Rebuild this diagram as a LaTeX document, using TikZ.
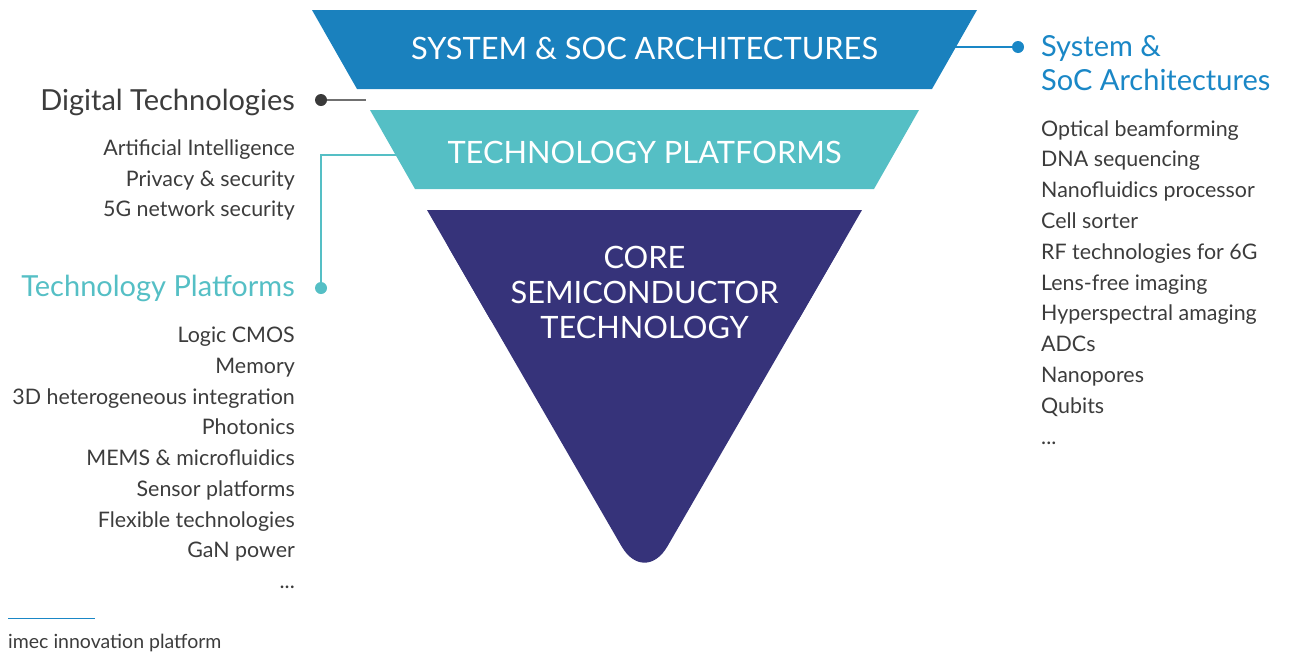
\documentclass[tikz,border=0pt]{standalone}
\usepackage{fontspec}
\setmainfont{Lato}
\definecolor{topblue}{HTML}{1A81BE}
\definecolor{teal}{HTML}{55BFC5}
\definecolor{navy}{HTML}{36337A}
\definecolor{txtblue}{HTML}{1A87C6}
\definecolor{txtgray}{HTML}{3C3C3C}
\definecolor{dotgray}{HTML}{3A3A3A}
\definecolor{linegray}{HTML}{707070}
\begin{document}
\begin{tikzpicture}[x=1pt,y=-1pt,
  band/.style={inner sep=0pt,text=white,font=\fontsize{30.8}{35}\selectfont},
  head/.style={inner sep=0pt,font=\fontsize{29}{34}\selectfont},
  item/.style={inner sep=0pt,text=txtgray,font=\fontsize{21.4}{26}\selectfont},
  dot/.style={circle,inner sep=0pt,minimum size=12pt},
  conn/.style={line width=1.3pt}]
\useasboundingbox (0,0) rectangle (1296,654);
% connectors drawn first (under shapes)
\node[dot,fill=dotgray] (ddot) at (321,100) {};
\coordinate (dend) at (366,100);
\draw[conn,linegray] (ddot) -- (dend);
\node[dot,fill=teal] (tdot) at (321,288) {};
\coordinate (tend) at (400,155);
\draw[conn,teal] (tdot) |- (tend);
\node[dot,fill=txtblue] (sdot) at (1018,47) {};
\coordinate (send) at (950,47);
\draw[conn,txtblue] (send) -- (sdot);
% shapes
\fill[topblue] (312,10) -- (977,10) -- (932,89) -- (357,89) -- cycle;
\fill[teal] (370,110) -- (919,110) -- (874,189) -- (415,189) -- cycle;
\fill[navy,rounded corners=46pt] (427,210) -- (862,210) -- (644.5,586) -- cycle;
\fill[navy] (427,210) -- (862,210) -- (798.5,320) -- (490.5,320) -- cycle;
% band labels
\node[band,anchor=base] (sys) at (644.5,59.5) {SYSTEM \& SOC ARCHITECTURES};
\node[band,anchor=base] (tp) at (644.5,163) {TECHNOLOGY PLATFORMS};
\node[band,anchor=base] (core1) at (644.5,268.8) {CORE};
\node[band,anchor=base] (core2) at (644.5,303.8) {SEMICONDUCTOR};
\node[band,anchor=base] (core3) at (644.5,338.8) {TECHNOLOGY};
% left headings
\node[head,text=txtgray,anchor=base east] (dh) at (295,110) {Digital Technologies};
\foreach \t [count=\i from 0] in {Artificial Intelligence,Privacy \& security,5G network security}
  \node[item,anchor=base east] (dl\i) at (295,155.5+30.6*\i) {\t};
\node[head,text=teal,anchor=base east] (th) at (295,296.5) {Technology Platforms};
\foreach \t [count=\i from 0] in {Logic CMOS,Memory,3D heterogeneous integration,Photonics,MEMS \& microfluidics,Sensor platforms,Flexible technologies,GaN power}
  \node[item,anchor=base east] (tl\i) at (295,342.5+30.75*\i) {\t};
\node[item,anchor=base east] (tl8) at (295,342.5+30.75*8) {...};
% right
\node[head,text=txtblue,anchor=base west] (sh1) at (1041,56.5) {System \&};
\node[head,text=txtblue,anchor=base west] (sh2) at (1041,90.5) {SoC Architectures};
\foreach \t [count=\i from 0] in {Optical beamforming,DNA sequencing,Nanofluidics processor,Cell sorter,RF technologies for 6G,Lens-free imaging,Hyperspectral amaging,ADCs,Nanopores,Qubits}
  \node[item,anchor=base west] (sl\i) at (1041,136+30.8*\i) {\t};
\node[item,anchor=base west] (sl10) at (1041,136+30.8*10) {...};
% footnote
\coordinate (fa) at (8,618.5);
\coordinate (fb) at (95,618.5);
\draw[line width=1.2pt,txtblue] (fa) -- (fb);
\node[inner sep=0pt,anchor=base west,text=txtgray,font=\fontsize{19.5}{22}\selectfont] (foot) at (8,648.5) {imec innovation platform};
\end{tikzpicture}
\end{document}
